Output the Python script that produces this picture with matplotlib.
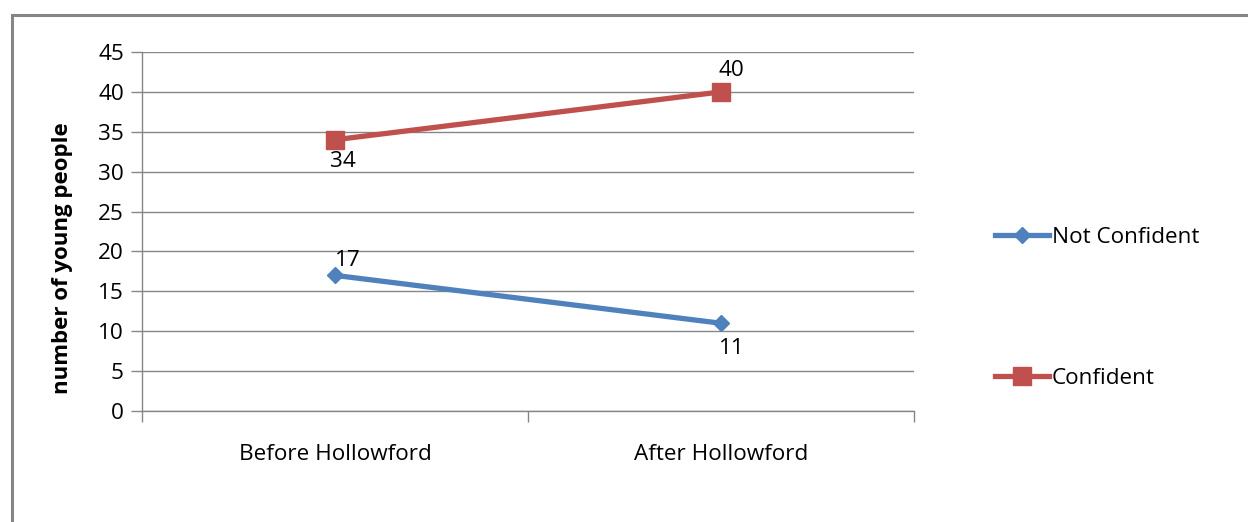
import matplotlib
matplotlib.use("Agg")
import matplotlib.pyplot as plt
from matplotlib.patches import Rectangle

categories = ["Before Hollowford", "After Hollowford"]
not_confident = [17, 11]
confident = [34, 40]
y_ticks = [0, 5, 10, 15, 20, 25, 30, 35, 40, 45]

plt.rcParams["font.family"] = ["Open Sans", "DejaVu Sans"]

W, H, DPI = 1248, 522, 100
fig = plt.figure(figsize=(W / DPI, H / DPI), dpi=DPI)

# outer chart border
fig.add_artist(Rectangle((12 / W, -0.05), 1.2, 1 - 15 / H + 0.05,
                         transform=fig.transFigure, fill=False,
                         edgecolor="#868686", linewidth=2.2))

ax = fig.add_axes([142 / W, 1 - 411 / H, (914 - 142) / W, (411 - 52) / H])

grey = "#868686"
blue = "#4F81BD"
red = "#C0504D"
fs = 16.2

x = list(range(len(categories)))
ax.plot(x, not_confident, color=blue, linewidth=3.8, marker="D",
        markersize=8.5, label="Not Confident", zorder=3)
ax.plot(x, confident, color=red, linewidth=3.8, marker="s",
        markersize=13.5, label="Confident", zorder=3)

ax.set_xlim(-0.5, 1.5)
ax.set_ylim(0, 45)
ax.set_yticks(y_ticks)
ax.set_xticks([-0.5, 0.5, 1.5], minor=False)
ax.set_xticklabels([])
ax.set_xticks(x, minor=True)
ax.set_xticklabels(categories, minor=True)
ax.tick_params(axis="x", which="major", length=8, color=grey, width=1)
ax.tick_params(axis="x", which="minor", length=0, pad=24, labelsize=fs)
ax.tick_params(axis="y", length=8, color=grey, width=1, labelsize=fs, pad=5)

ax.grid(axis="y", color=grey, linewidth=1)
ax.set_axisbelow(True)
for side in ["top", "right"]:
    ax.spines[side].set_visible(False)
for side in ["left", "bottom"]:
    ax.spines[side].set_color(grey)
    ax.spines[side].set_linewidth(1)

ax.set_ylabel("number of young people", fontsize=16, fontweight="bold")
ax.yaxis.set_label_coords(73 / W, 1 - 258 / H, transform=fig.transFigure)

# value labels next to each point
label_offsets = {
    "nc": [(13, 15), (11, -25)],
    "c": [(8, -22), (10, 21)],
}
for xi, v, off in zip(x, not_confident, label_offsets["nc"]):
    ax.annotate(str(v), (xi, v), xytext=off, textcoords="offset pixels",
                ha="center", va="center", fontsize=fs)
for xi, v, off in zip(x, confident, label_offsets["c"]):
    ax.annotate(str(v), (xi, v), xytext=off, textcoords="offset pixels",
                ha="center", va="center", fontsize=fs)

# legend entries stacked far apart on the right
h, l = ax.get_legend_handles_labels()
fig.legend([h[0]], [l[0]], loc="center left",
           bbox_to_anchor=(975 / W, 1 - 237 / H), frameon=False,
           fontsize=fs, handlelength=2.4, handletextpad=0.1)
fig.legend([h[1]], [l[1]], loc="center left",
           bbox_to_anchor=(975 / W, 1 - 378 / H), frameon=False,
           fontsize=fs, handlelength=2.4, handletextpad=0.1)

fig.savefig("out.png", dpi=DPI)
